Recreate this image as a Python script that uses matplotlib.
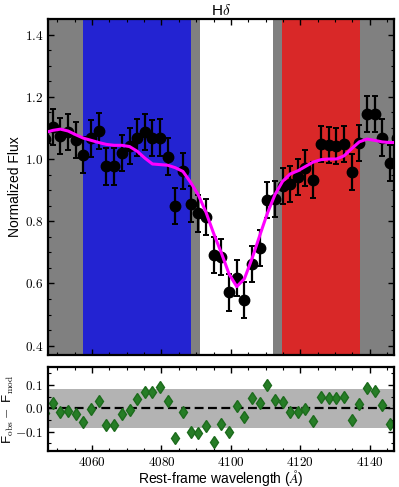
# H-delta index fit: spectrum, model and residuals

import matplotlib
matplotlib.use('Agg')
import matplotlib.pyplot as plt
from matplotlib.ticker import MultipleLocator, FuncFormatter

plt.rcParams['font.family'] = ['Liberation Sans', 'DejaVu Sans']
plt.rcParams['mathtext.fontset'] = 'cm'

# Data
wave = [4046.5, 4048.7, 4050.9, 4053.1, 4055.3, 4057.5, 4059.7, 4061.9, 4064.1, 4066.4,
        4068.6, 4070.8, 4073.0, 4075.2, 4077.4, 4079.6, 4081.8, 4084.0, 4086.2, 4088.4,
        4090.6, 4092.8, 4095.0, 4097.3, 4099.5, 4101.7, 4103.9, 4106.1, 4108.3, 4110.5,
        4112.7, 4114.9, 4117.1, 4119.3, 4121.5, 4123.7, 4126.0, 4128.2, 4130.4, 4132.6,
        4134.8, 4137.0, 4139.2, 4141.4, 4143.6, 4145.8, 4148.0]
flux = [1.064, 1.102, 1.075, 1.088, 1.062, 1.014, 1.066, 1.089, 0.976, 0.976,
        1.019, 1.041, 1.069, 1.086, 1.068, 1.069, 1.008, 0.850, 0.960, 0.855,
        0.825, 0.815, 0.691, 0.686, 0.571, 0.617, 0.548, 0.664, 0.714, 0.868,
        0.870, 0.912, 0.920, 0.943, 0.971, 0.932, 1.048, 1.046, 1.041, 1.048,
        0.959, 1.051, 1.145, 1.145, 1.069, 0.986, 1.069]
flux_err = [0.058] * 47
model = [1.085, 1.092, 1.096, 1.090, 1.078, 1.067, 1.060, 1.053, 1.047, 1.044,
         1.044, 1.040, 1.025, 1.003, 0.984, 0.982, 0.980, 0.972, 0.960, 0.925,
         0.885, 0.830, 0.762, 0.697, 0.630, 0.590, 0.615, 0.680, 0.753, 0.825,
         0.885, 0.928, 0.952, 0.962, 0.976, 0.990, 0.998, 1.000, 1.000, 1.010,
         1.033, 1.055, 1.064, 1.060, 1.055, 1.053, 1.053]
resid = [-0.020, 0.021, -0.017, -0.010, -0.024, -0.057, -0.003, 0.033, -0.071, -0.070,
         -0.026, -0.007, 0.039, 0.071, 0.071, 0.090, 0.033, -0.126, -0.014, -0.100,
         -0.107, -0.076, -0.143, -0.069, -0.103, 0.011, -0.037, 0.043, 0.021, 0.100,
         0.036, 0.026, -0.014, -0.014, -0.003, -0.054, 0.050, 0.046, 0.043, 0.050,
         -0.051, 0.017, 0.086, 0.076, 0.014, -0.069, 0.016]
resid_band = 0.084

# Lick HdeltaF bands
blue_band = (4057.25, 4088.50)
line_band = (4091.00, 4112.25)
red_band = (4114.75, 4137.25)

fig = plt.figure(figsize=(3.99, 4.87), dpi=100)
ax = fig.add_axes([0.1203, 0.271, 0.867, 0.690])
ax2 = fig.add_axes([0.1203, 0.0739, 0.867, 0.1725])

ax.set_facecolor('#808080')
ax.axvspan(*blue_band, color='#2323d2', lw=0)
ax.axvspan(*line_band, color='white', lw=0)
ax.axvspan(*red_band, color='#d92828', lw=0)

ax.errorbar(wave, flux, yerr=flux_err, fmt='o', color='black', ms=7.5,
            elinewidth=1.6, capsize=2, capthick=1.4, zorder=3)
ax.plot(wave, model, color='magenta', lw=2.2, zorder=4)

ax.set_xlim(4047.3, 4147.0)
ax.set_ylim(0.37, 1.45)
ax.set_ylabel('Normalized Flux', fontsize=10)
ax.yaxis.set_label_coords(-0.075, 0.5)
ax.set_title(r'H$\delta$', fontsize=11, pad=3)
ax.tick_params(labelbottom=False)
ax.yaxis.set_major_locator(MultipleLocator(0.2))
ax.yaxis.set_minor_locator(MultipleLocator(0.05))

ax2.axhspan(-resid_band, resid_band, color='#b3b3b3', lw=0)
ax2.axhline(0, color='black', ls='--', lw=1.6, dashes=(4, 2))
ax2.plot(wave, resid, 'd', color='#267d26', ms=6.5, mec='#1c6b1c')
ax2.set_xlim(4047.3, 4147.0)
ax2.set_ylim(-0.183, 0.177)
ax2.set_xlabel(r'Rest-frame wavelength ($\AA$)', fontsize=10, labelpad=-0.5)
ax2.set_ylabel(r'F$_{\rm obs}-$ F$_{\rm mod}$', fontsize=9.5)
ax2.yaxis.set_label_coords(-0.093, 0.5)
ax2.yaxis.set_major_locator(MultipleLocator(0.1))
ax2.yaxis.set_minor_locator(MultipleLocator(0.05))
ax2.yaxis.set_major_formatter(FuncFormatter(lambda v, p: '$%.1f$' % v))

for a in (ax, ax2):
    a.xaxis.set_major_locator(MultipleLocator(20))
    a.xaxis.set_minor_locator(MultipleLocator(5))
    a.xaxis.set_major_formatter(FuncFormatter(lambda v, p: '$%d$' % v))
    if a is ax:
        a.yaxis.set_major_formatter(FuncFormatter(lambda v, p: '$%.1f$' % v))
    a.tick_params(which='both', direction='in', top=True, right=True, labelsize=9.5)
    a.tick_params(which='major', length=4, width=1)
    a.tick_params(which='minor', length=2, width=0.8)
    for s in a.spines.values():
        s.set_linewidth(1.6)

fig.savefig('out.png', dpi=100)
